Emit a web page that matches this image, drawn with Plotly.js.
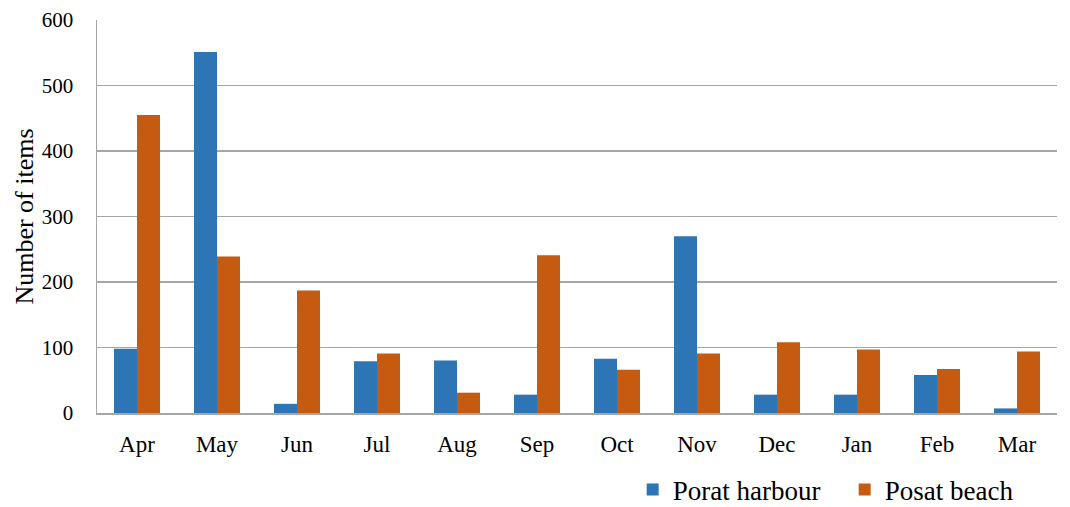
<!DOCTYPE html>
<html>
<head>
<meta charset="utf-8">
<script src="https://cdn.plot.ly/plotly-3.0.1.min.js"></script>
<style>
  body { margin: 0; background: #fff; }
  #chart { width: 1070px; height: 507px; }
</style>
</head>
<body>
<div id="chart"></div>
<script>
var months = ["Apr", "May", "Jun", "Jul", "Aug", "Sep", "Oct", "Nov", "Dec", "Jan", "Feb", "Mar"];
var porat_harbour = [98, 551, 14, 79, 80, 28, 83, 270, 28, 28, 58, 7];
var posat_beach = [455, 239, 187, 91, 31, 241, 66, 91, 108, 97, 67, 94];
var y_ticks = [0, 100, 200, 300, 400, 500, 600];

var font_family = "Liberation Serif";

var traces = [
    {
        x: months,
        y: porat_harbour,
        name: "Porat harbour",
        type: "bar",
        marker: {color: "#2E75B6"}
    },
    {
        x: months,
        y: posat_beach,
        name: "Posat beach",
        type: "bar",
        marker: {color: "#C55A11"}
    }
];

var layout = {
    width: 1070,
    height: 507,
    margin: {l: 97, r: 13, t: 20, b: 94, autoexpand: false},
    paper_bgcolor: "#ffffff",
    plot_bgcolor: "#ffffff",
    barmode: "group",
    bargap: 0.425,
    bargroupgap: 0,
    font: {family: font_family, size: 20, color: "#000000"},
    xaxis: {
        showgrid: false,
        showline: true,
        linecolor: "#a6a6a6",
        linewidth: 1.5,
        ticks: "",
        ticklabelstandoff: 10,
        tickfont: {family: font_family, size: 23},
        automargin: false,
        fixedrange: true
    },
    yaxis: {
        range: [0, 600],
        tickvals: y_ticks,
        showgrid: true,
        gridcolor: "#a6a6a6",
        gridwidth: 1.5,
        zeroline: false,
        showline: true,
        linecolor: "#a6a6a6",
        linewidth: 1.5,
        ticks: "",
        ticklabelstandoff: 18,
        tickfont: {family: font_family, size: 21},
        title: {text: "Number of items", font: {family: font_family, size: 26}, standoff: 0},
        automargin: false,
        fixedrange: true
    },
    showlegend: true,
    legend: {
        orientation: "h",
        x: 0.558,
        xanchor: "left",
        y: -0.196,
        yanchor: "middle",
        font: {family: font_family, size: 27, color: "#000000"},
        itemwidth: 30,
        entrywidth: 167,
        entrywidthmode: "pixels",
        traceorder: "normal"
    }
};

Plotly.newPlot("chart", traces, layout, {displayModeBar: false, staticPlot: true});
</script>
</body>
</html>
